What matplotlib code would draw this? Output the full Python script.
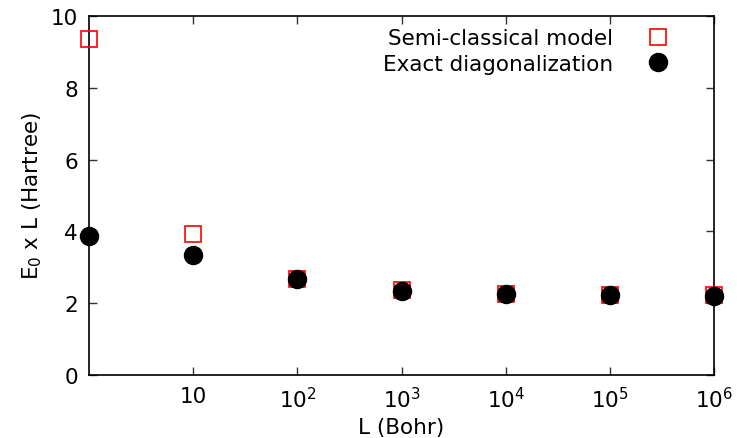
import matplotlib
matplotlib.use("Agg")
import matplotlib.pyplot as plt
from matplotlib.ticker import FixedLocator, FixedFormatter, NullLocator

L = [1, 10, 1e2, 1e3, 1e4, 1e5, 1e6]
semi = [9.36, 3.93, 2.68, 2.36, 2.26, 2.23, 2.22]
exact = [3.87, 3.34, 2.67, 2.35, 2.25, 2.22, 2.21]
xticks = [10, 1e2, 1e3, 1e4, 1e5, 1e6]
xlabels = ['10', '$10^2$', '$10^3$', '$10^4$', '$10^5$', '$10^6$']

plt.rcParams['font.family'] = 'DejaVu Sans'
plt.rcParams['mathtext.fontset'] = 'dejavusans'
plt.rcParams['mathtext.default'] = 'regular'

fs = 15.5
fig = plt.figure(figsize=(7.37, 4.39), dpi=100)
ax = fig.add_axes([0.1208, 0.1435, 0.848, 0.8178])

ax.plot(L, semi, 's', ms=12, mfc='none', mec='red', mew=1.2, ls='none',
        label='Semi-classical model', clip_on=False, zorder=3)
ax.plot(L, exact, 'o', ms=13, color='black', ls='none',
        label='Exact diagonalization', clip_on=False, zorder=4)

ax.set_xscale('log')
ax.set_xlim(1, 1e6)
ax.set_ylim(0, 10)
ax.xaxis.set_major_locator(FixedLocator(xticks))
ax.xaxis.set_major_formatter(FixedFormatter(xlabels))
ax.xaxis.set_minor_locator(NullLocator())
ax.set_yticks([0, 2, 4, 6, 8, 10])

ax.tick_params(direction='in', length=6, width=1, labelsize=fs,
               top=True, right=True, pad=8, color='#333333')
for s in ax.spines.values():
    s.set_linewidth(1.2)

ax.set_xlabel('L (Bohr)', fontsize=fs, labelpad=4)
ax.set_ylabel('E$_0$ x L (Hartree)', fontsize=fs, labelpad=5)

ax.legend(loc='upper right', frameon=False, markerfirst=False, fontsize=fs,
          handletextpad=1.3, borderaxespad=0.0, labelspacing=0.25,
          handlelength=1.6, bbox_to_anchor=(0.952, 0.99))

fig.savefig('out.png', dpi=100)
